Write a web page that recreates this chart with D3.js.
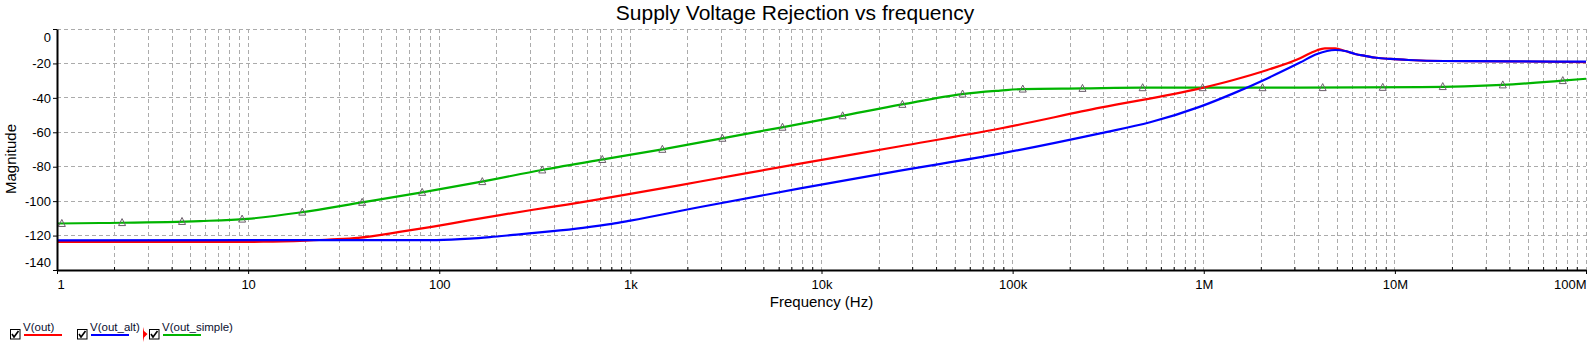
<!DOCTYPE html>
<html>
<head>
<meta charset="utf-8">
<script src="https://cdn.jsdelivr.net/npm/d3@7/dist/d3.min.js"></script>
<style>
  body { margin: 0; background: #fff; }
  svg { display: block; font-family: "Liberation Sans", Arial, sans-serif; }
</style>
</head>
<body>
<script>
// series: [frequency Hz, magnitude dB]
const vOut = [
  [1, -123.7], [12, -123.6], [20, -123.0], [26.5, -122.3], [37.6, -121.3], [62, -117.9],
  [93, -114.8], [140, -111.3], [208, -108.1], [310, -105.0], [466, -102.0], [694, -98.8],
  [2320, -88.6], [7730, -78.2], [25800, -68.1], [86000, -57.8], [287000, -45.7], [958000, -34.5],
  [1.43e6, -29.6], [2.15e6, -23.8], [3.19e6, -17.0], [3.6e6, -14.1], [3.92e6, -12.3], [4.3e6, -11.2],
  [4.87e6, -11.2], [5.5e6, -12.8], [6.2e6, -14.5], [7.0e6, -15.6], [8.0e6, -16.7], [9.5e6, -17.4],
  [11.8e6, -18.0], [18e6, -18.6], [40e6, -18.8], [100e6, -19.2]
];
const vOutAlt = [
  [1, -122.8], [97, -122.6], [145, -121.8], [184, -120.9], [255, -119.4], [380, -117.6],
  [565, -115.5], [800, -113.2], [1000, -111.3], [2320, -103.4], [7730, -92.6], [25800, -82.3],
  [86000, -72.4], [287000, -60.6], [524000, -54.2], [958000, -45.1], [1.43e6, -37.4], [2.15e6, -28.7],
  [3.19e6, -19.5], [3.92e6, -14.5], [4.87e6, -12.2], [5.5e6, -12.8], [6.2e6, -14.5], [7.0e6, -15.6],
  [8.0e6, -16.7], [9.5e6, -17.4], [11.8e6, -18.0], [18e6, -18.6], [40e6, -18.8], [100e6, -19.0]
];
const vOutSimple = [
  [1, -113.0], [1.68, -112.7], [5.6, -111.6], [9.87, -110.3], [18.7, -106.6], [39.5, -100.7],
  [81.3, -94.9], [167, -88.7], [345, -81.9], [720, -75.7], [1470, -69.9], [3020, -63.5],
  [6220, -57.1], [12800, -50.5], [26400, -43.8], [54400, -37.8], [86000, -35.8], [112000, -34.9],
  [231000, -34.5], [476000, -34.1], [3.19e6, -34.1], [13.6e6, -33.8], [36.4e6, -32.5], [75e6, -30.0],
  [100e6, -28.9]
];
// triangle markers on V(out_simple)
const markerFreqs = [1.06, 2.19, 4.51, 9.3, 19.2, 39.5, 81.4, 168, 346, 713, 1470, 3030, 6250,
  12900, 26500, 54700, 113000, 232000, 479000, 987000, 2.03e6, 4.19e6, 8.64e6, 17.8e6, 36.7e6, 75.6e6];

const xTicks = [1, 10, 100, 1e3, 1e4, 1e5, 1e6, 1e7, 1e8];
const xTickLabels = ['1', '10', '100', '1k', '10k', '100k', '1M', '10M', '100M'];
const yTicks = [0, -20, -40, -60, -80, -100, -120, -140];

const legendItems = [
  { name: 'V(out)', color: '#ff0000' },
  { name: 'V(out_alt)', color: '#0000ff' },
  { name: 'V(out_simple)', color: '#00b400' }
];

const W = 1590, H = 353;
const pLeft = 57, pRight = 1586, pTop = 29, pBottom = 270;

const svg = d3.select('body').append('svg').attr('width', W).attr('height', H);

const x = d3.scaleLog().domain([1, 1e8]).range([pLeft, pRight]);
const y = d3.scaleLinear().domain([-140, 0]).range([pBottom, pTop]);

// minor + major frequency positions for the grid
const gridFreqs = [];
for (let d = 0; d < 8; d++) {
  for (let m = 1; m < 10; m++) gridFreqs.push(m * Math.pow(10, d));
}
gridFreqs.push(1e8);

const grid = svg.append('g')
  .attr('stroke', '#ababab')
  .attr('stroke-width', 1)
  .attr('stroke-dasharray', '4,3')
  .attr('shape-rendering', 'crispEdges');

grid.selectAll('.vg')
  .data(gridFreqs.filter(f => f > 1))
  .enter()
  .append('line')
  .attr('x1', d => x(d)).attr('x2', d => x(d))
  .attr('y1', pTop).attr('y2', pBottom);

grid.selectAll('.hg')
  .data(yTicks.filter(v => v > -140))
  .enter()
  .append('line')
  .attr('x1', pLeft).attr('x2', pRight)
  .attr('y1', d => y(d)).attr('y2', d => y(d));

// curves
const line = d3.line()
  .x(d => x(d[0]))
  .y(d => y(d[1]))
  .curve(d3.curveMonotoneX);

const series = [
  { data: vOutSimple, color: '#00b400' },
  { data: vOut, color: '#ff0000' },
  { data: vOutAlt, color: '#0000ff' }
];

svg.append('g')
  .selectAll('path')
  .data(series)
  .enter()
  .append('path')
  .attr('d', d => line(d.data))
  .attr('fill', 'none')
  .attr('stroke', d => d.color)
  .attr('stroke-width', 2.2);

// marker y from the green curve, interpolated in log frequency
function greenAt(f) {
  const lf = Math.log10(f);
  for (let i = 1; i < vOutSimple.length; i++) {
    const a = vOutSimple[i - 1], b = vOutSimple[i];
    const la = Math.log10(a[0]), lb = Math.log10(b[0]);
    if (lf <= lb) return a[1] + (b[1] - a[1]) * (lf - la) / (lb - la);
  }
  return vOutSimple[vOutSimple.length - 1][1];
}

svg.append('g')
  .selectAll('path')
  .data(markerFreqs)
  .enter()
  .append('path')
  .attr('transform', d => `translate(${x(d)},${y(greenAt(d))})`)
  .attr('d', 'M-3.5,3L0,-4L3.5,3Z')
  .attr('fill', 'none')
  .attr('stroke', '#6b5f6b')
  .attr('stroke-width', 1);

// y axis
const yAxis = svg.append('g')
  .attr('transform', `translate(${pLeft},0)`)
  .call(d3.axisLeft(y).tickValues(yTicks).tickSize(4).tickSizeOuter(0).tickPadding(2)
    .tickFormat(d => d));
yAxis.select('.domain').attr('stroke-width', 2);
yAxis.selectAll('.tick line').attr('stroke-width', 1);
yAxis.selectAll('text').attr('font-size', 13).attr('fill', '#000')
  .attr('font-family', '"Liberation Sans", Arial, sans-serif');
yAxis.selectAll('.tick').filter(d => d === 0).select('text').attr('dy', '0.95em');
yAxis.selectAll('.tick').filter(d => d === -140).select('text').attr('dy', '-0.25em');

// x axis
const xAxis = svg.append('g')
  .attr('transform', `translate(0,${pBottom})`)
  .call(d3.axisBottom(x).tickValues(xTicks).tickSize(4).tickSizeOuter(0).tickPadding(6)
    .tickFormat((d, i) => xTickLabels[i]));
xAxis.select('.domain').attr('stroke-width', 2);
xAxis.selectAll('text').attr('font-size', 13).attr('fill', '#000')
  .attr('font-family', '"Liberation Sans", Arial, sans-serif');
xAxis.selectAll('.tick').filter(d => d === 1).select('text').attr('text-anchor', 'start');
xAxis.selectAll('.tick').filter(d => d === 1e8).select('text').attr('text-anchor', 'end');

// minor ticks pointing up
xAxis.selectAll('.minor')
  .data(gridFreqs.filter(f => !xTicks.includes(f)))
  .enter()
  .append('line')
  .attr('x1', d => x(d)).attr('x2', d => x(d))
  .attr('y1', 0).attr('y2', -3)
  .attr('stroke', '#000');

// titles
svg.append('text')
  .attr('x', W / 2).attr('y', 20)
  .attr('text-anchor', 'middle')
  .attr('font-size', 21)
  .text('Supply Voltage Rejection vs frequency');

svg.append('text')
  .attr('x', (pLeft + pRight) / 2).attr('y', 307)
  .attr('text-anchor', 'middle')
  .attr('font-size', 15)
  .text('Frequency (Hz)');

svg.append('text')
  .attr('transform', 'translate(16,159) rotate(-90)')
  .attr('text-anchor', 'middle')
  .attr('font-size', 15)
  .text('Magnitude');

// legend
const legendX = [10, 77, 149];
const leg = svg.append('g');
legendItems.forEach((item, i) => {
  const g = leg.append('g').attr('transform', `translate(${legendX[i]},329)`);
  g.append('rect').attr('x', 0.5).attr('y', 0.5).attr('width', 9.5).attr('height', 9.5)
    .attr('fill', '#fff').attr('stroke', '#000').attr('stroke-width', 1);
  g.append('path').attr('d', 'M2,5 L4,8 L8.5,2')
    .attr('fill', 'none').attr('stroke', '#000').attr('stroke-width', 1.6);
  g.append('text').attr('x', 13).attr('y', 2).attr('font-size', 11.5).attr('fill', '#0c1030')
    .text(item.name);
  g.append('line').attr('x1', 14).attr('x2', 52).attr('y1', 6).attr('y2', 6)
    .attr('stroke', item.color).attr('stroke-width', 2);
});
// red cursor marker next to the last item
leg.append('path')
  .attr('d', 'M143,327 L144,331 L147.5,334 L144,337.5 L143,342 Z')
  .attr('fill', '#ff0000');
</script>
</body>
</html>
